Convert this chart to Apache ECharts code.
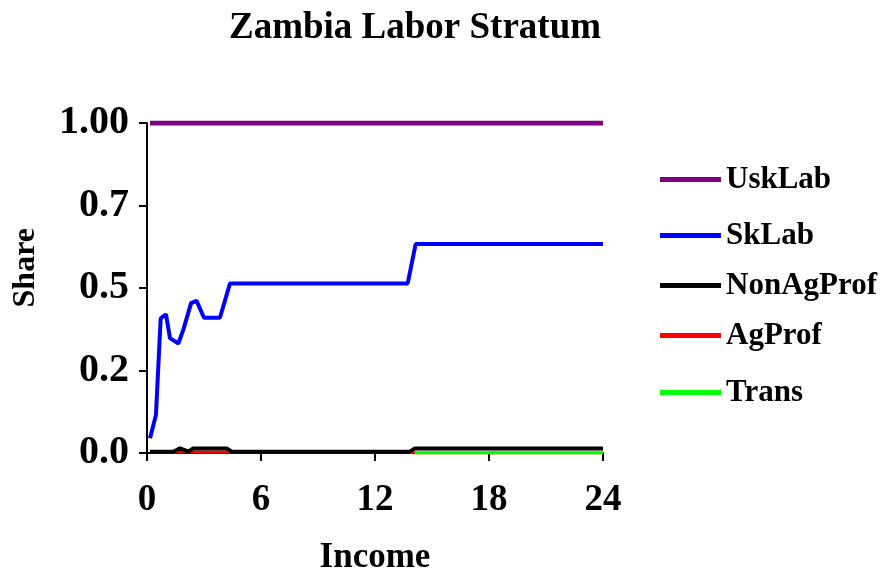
<!DOCTYPE html>
<html>
<head>
<meta charset="utf-8">
<title>Zambia Labor Stratum</title>
<script src="https://cdn.jsdelivr.net/npm/echarts@6/dist/echarts.min.js"></script>
<style>
  html, body { margin: 0; padding: 0; background: #fff; }
  #chart { width: 892px; height: 576px; }
</style>
</head>
<body>
<div id="chart"></div>
<script>
// values
var uskIncome = [0.16, 24];
var uskShare = [1.0, 1.0];

var skIncome = [0.16, 0.47, 0.72, 1.0, 1.21, 1.65, 1.91, 2.32, 2.61, 3.0, 3.84, 4.37, 13.72, 14.14, 24];
var skShare = [0.045, 0.115, 0.408, 0.42, 0.348, 0.332, 0.373, 0.454, 0.461, 0.41, 0.41, 0.514, 0.514, 0.633, 0.633];

var lowIncome = [0.16, 1.39, 1.74, 2.18, 2.43, 4.19, 4.46, 13.84, 14.1, 24];
var nonAgShare = [0.004, 0.004, 0.014, 0.004, 0.014, 0.014, 0.004, 0.004, 0.014, 0.014];
var agShare = [0.002, 0.002, 0.003, 0.003, 0.003, 0.003, 0.002, 0.002, 0.0, 0.0];
// Trans only shows from about 14 onward
var transShare = [null, null, null, null, null, null, null, null, 0.0, 0.0];

var yTickLabels = ['0.0', '0.2', '0.5', '0.7', '1.00'];
var seriesNames = ['UskLab', 'SkLab', 'NonAgProf', 'AgProf', 'Trans'];
var seriesColors = ['#800080', '#0000ff', '#000000', '#ff0000', '#00ff00'];

var serif = "'Liberation Serif', 'Times New Roman', serif";

function pairs(xs, ys) {
  return xs.map(function (x, i) { return [x, ys[i]]; });
}

var mychart = echarts.init(document.getElementById('chart'));

var legendTops = [177, 233, 283, 333, 390];
var legends = seriesNames.map(function (n, i) {
  return {
    data: [n],
    left: 655,
    top: legendTops[i] - 18,
    icon: 'rect',
    itemWidth: 61,
    itemHeight: 5,
    itemGap: 7,
    selectedMode: false,
    textStyle: { fontFamily: serif, fontWeight: 'bold', fontSize: 31, color: '#000' }
  };
});

var lineData = [
  pairs(uskIncome, uskShare),
  pairs(skIncome, skShare),
  pairs(lowIncome, nonAgShare),
  pairs(lowIncome, agShare),
  pairs(lowIncome, transShare)
];
var widths = [5, 4, 4, 3, 3];
// red sits under the black line
var zOrder = [2, 2, 3, 1, 2];

var option = {
  animation: false,
  title: {
    text: 'Zambia Labor Stratum',
    left: 224,
    top: 5,
    textStyle: { fontFamily: serif, fontWeight: 'bold', fontSize: 37, color: '#000' }
  },
  legend: legends,
  graphic: [{
    type: 'text',
    left: 10,
    top: 228,
    rotation: Math.PI / 2,
    style: { text: 'Share', fontFamily: serif, fontWeight: 'bold', fontSize: 32, fill: '#000' }
  }],
  grid: { left: 147, right: 289, top: 123, bottom: 123, outerBoundsMode: 'none' },
  xAxis: {
    type: 'value',
    min: 0,
    max: 24,
    interval: 6,
    name: 'Income',
    nameLocation: 'middle',
    nameGap: 87,
    nameTextStyle: { fontFamily: serif, fontWeight: 'bold', fontSize: 35, color: '#000' },
    axisLine: { lineStyle: { color: '#000', width: 2 } },
    axisTick: { length: 8, lineStyle: { color: '#000', width: 2 } },
    splitLine: { show: false },
    axisLabel: { margin: 29, fontFamily: serif, fontWeight: 'bold', fontSize: 37, color: '#000' }
  },
  yAxis: {
    type: 'value',
    min: 0,
    max: 1,
    interval: 0.25,
    axisLine: { show: true, lineStyle: { color: '#000', width: 2 } },
    axisTick: { show: true, length: 8, lineStyle: { color: '#000', width: 2 } },
    splitLine: { show: false },
    axisLabel: {
      margin: 18,
      fontFamily: serif, fontWeight: 'bold', fontSize: 40, color: '#000',
      formatter: function (v) { return yTickLabels[Math.round(v / 0.25)]; }
    }
  },
  series: seriesNames.map(function (n, i) {
    return {
      name: n,
      type: 'line',
      data: lineData[i],
      symbol: 'none',
      connectNulls: false,
      z: zOrder[i],
      color: seriesColors[i],
      lineStyle: { color: seriesColors[i], width: widths[i] }
    };
  })
};

mychart.setOption(option);
</script>
</body>
</html>
